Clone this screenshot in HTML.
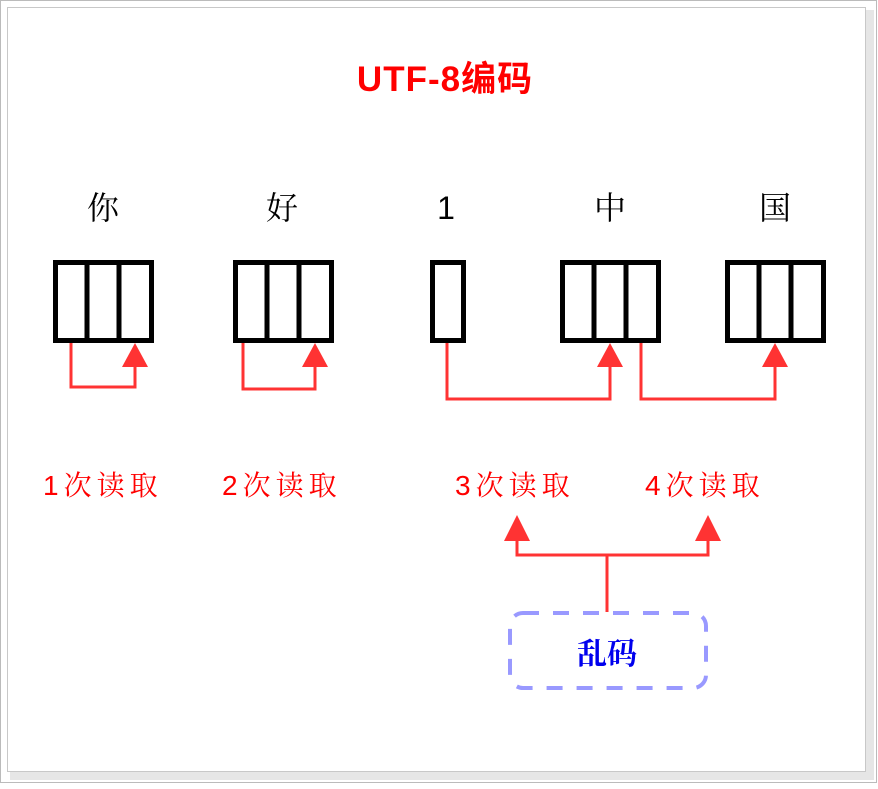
<!DOCTYPE html>
<html><head><meta charset="utf-8"><style>
body{margin:0;background:#fff;}
</style></head><body>
<svg width="878" height="784" xmlns="http://www.w3.org/2000/svg">
<rect x="0.5" y="0.5" width="876" height="782" fill="#fff" stroke="#bbb"/>
<rect x="866" y="10" width="8" height="766" fill="#e6e6e6"/>
<rect x="10" y="772" width="864" height="8" fill="#e6e6e6"/>
<rect x="7.5" y="7.5" width="858" height="764" fill="#fff" stroke="#c8c8c8"/>
<text x="445" y="91" text-anchor="middle" font-family="Liberation Sans, Noto Sans CJK SC, sans-serif" font-weight="bold" font-size="35" fill="#ff0000" letter-spacing="1">UTF-8编码</text>
<g font-family="Liberation Sans, Noto Serif CJK SC, serif" font-size="32" fill="#000" text-anchor="middle">
<text x="103" y="219">你</text><text x="282" y="219">好</text><text x="446" y="219">1</text><text x="610" y="219">中</text><text x="775" y="219">国</text>
</g>
<g fill="none" stroke="#000" stroke-width="5">
<rect x="55.5" y="262.5" width="96" height="78"/><line x1="87" y1="262" x2="87" y2="341"/><line x1="119" y1="262" x2="119" y2="341"/>
<rect x="235.5" y="262.5" width="96" height="78"/><line x1="267" y1="262" x2="267" y2="341"/><line x1="299" y1="262" x2="299" y2="341"/>
<rect x="432.5" y="262.5" width="31" height="78"/>
<rect x="562.5" y="262.5" width="96" height="78"/><line x1="594" y1="262" x2="594" y2="341"/><line x1="626" y1="262" x2="626" y2="341"/>
<rect x="727.5" y="262.5" width="96" height="78"/><line x1="759" y1="262" x2="759" y2="341"/><line x1="791" y1="262" x2="791" y2="341"/>
</g>
<g fill="none" stroke="#ff3333" stroke-width="3">
<polyline points="71,343 71,387 135,387 135,360"/>
<polyline points="243,343 243,389 315,389 315,360"/>
<polyline points="447,343 447,399 610,399 610,360"/>
<polyline points="641,343 641,399 775,399 775,360"/>
<polyline points="607,612 607,555 517,555 517,535"/>
<polyline points="607,555 708,555 708,535"/>
</g>
<g fill="#ff3333">
<polygon points="135,343 122,367 148,367"/>
<polygon points="315,343 302,367 328,367"/>
<polygon points="610,343 597,367 623,367"/>
<polygon points="775,343 762,367 788,367"/>
<polygon points="517,515 504,541 530,541"/>
<polygon points="708,515 695,541 721,541"/>
</g>
<g font-family="Liberation Sans, Noto Serif CJK SC, serif" font-size="28" fill="#ff0000" letter-spacing="5">
<text x="43" y="495">1次读取</text><text x="222" y="495">2次读取</text><text x="455" y="495">3次读取</text><text x="645" y="495">4次读取</text>
</g>
<rect x="510" y="613" width="196" height="75" rx="13" fill="none" stroke="#9999ff" stroke-width="4" stroke-dasharray="16,14"/>
<text x="607" y="664" text-anchor="middle" font-family="Liberation Sans, Noto Serif CJK SC, serif" font-weight="bold" font-size="30" fill="#0000ee">乱码</text>
</svg>
</body></html>
